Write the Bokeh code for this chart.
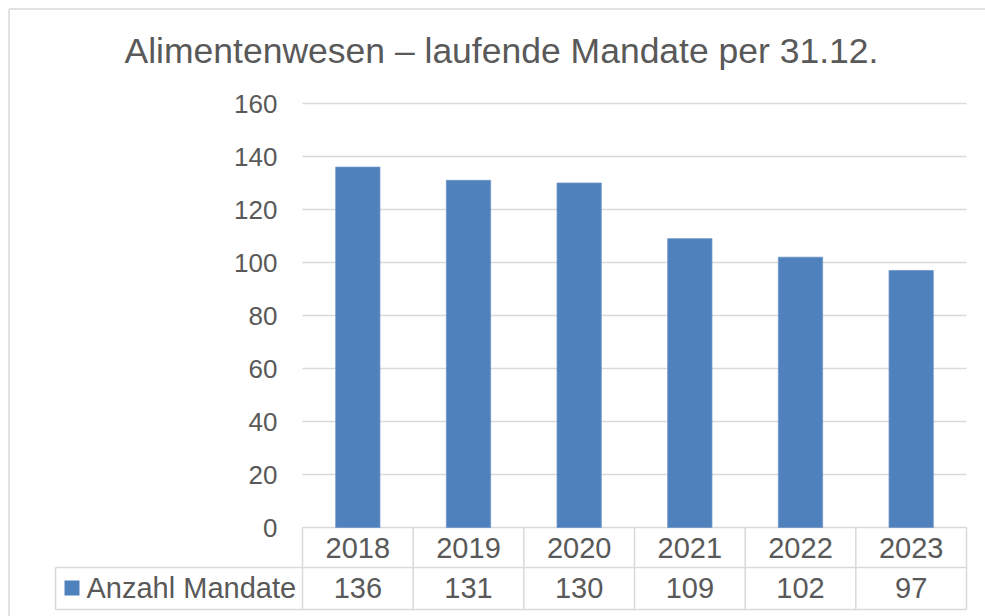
from bokeh.plotting import figure
from bokeh.models import Range1d
from bokeh.core.properties import value
from bokeh.embed import file_html
from bokeh.resources import INLINE

# ---- data ----
title_text = "Alimentenwesen – laufende Mandate per 31.12."
years = ["2018", "2019", "2020", "2021", "2022", "2023"]
mandates = [136, 131, 130, 109, 102, 97]
series_name = "Anzahl Mandate"
y_ticks = [0, 20, 40, 60, 80, 100, 120, 140, 160]
y_tick_labels = ["0", "20", "40", "60", "80", "100", "120", "140", "160"]

# ---- layout (pixels) ----
W, H = 985, 616
PL, PR, PT, PB = 302, 966, 103, 527      # plot area
YMAX = 160
ROW1_BOTTOM, ROW2_BOTTOM, TABLE_LEFT = 567, 609, 55
FONT = value("Liberation Sans")
TXT = "#595959"
GRID = "#D9D9D9"
BAR = "#4F81BD"

n = len(years)
cw = (PR - PL) / n
ppu = (PB - PT) / YMAX


def X(px):
    return (px - PL) / cw


def Y(py):
    return (PB - py) / ppu


p = figure(width=W, height=H, x_range=Range1d(X(0), X(W)), y_range=Range1d(Y(H), Y(0)),
           output_backend="svg", toolbar_location=None, x_axis_type=None, y_axis_type=None,
           min_border=0, min_border_left=0, min_border_right=0, min_border_top=0,
           min_border_bottom=0)
p.outline_line_color = None
p.xgrid.visible = False
p.ygrid.visible = False
p.background_fill_color = "white"
p.border_fill_color = "white"

# outer chart border (top + left visible)
p.segment(x0=[X(8.5), X(8.5)], y0=[Y(8.5), Y(8.5)], x1=[X(W), X(8.5)], y1=[Y(8.5), Y(H)],
          line_color=GRID, line_width=1.5)

# grid lines
p.segment(x0=[0] * len(y_ticks), x1=[n] * len(y_ticks), y0=y_ticks, y1=y_ticks,
          line_color=GRID, line_width=1.5)

# bars
xs = [i + 0.5 for i in range(n)]
p.vbar(x=xs, top=mandates, bottom=0, width=0.4, fill_color=BAR, line_color="#6E95C8",
       line_width=0.8)

# y tick labels
p.text(x=[X(277)] * len(y_ticks), y=y_ticks, text=y_tick_labels, text_align="right",
       text_baseline="middle", text_font=FONT, text_font_size="26px", text_color=TXT)

# data table lines
vx = list(range(n + 1))
p.segment(x0=vx, x1=vx, y0=[0] * (n + 1), y1=[Y(ROW2_BOTTOM)] * (n + 1),
          line_color=GRID, line_width=1.5)
p.segment(x0=[X(TABLE_LEFT)], x1=[X(TABLE_LEFT)], y0=[Y(ROW1_BOTTOM)], y1=[Y(ROW2_BOTTOM)],
          line_color=GRID, line_width=1.5)
p.segment(x0=[X(TABLE_LEFT)] * 2, x1=[n] * 2, y0=[Y(ROW1_BOTTOM), Y(ROW2_BOTTOM)],
          y1=[Y(ROW1_BOTTOM), Y(ROW2_BOTTOM)], line_color=GRID, line_width=1.5)

# table texts
p.text(x=xs, y=[Y(547)] * n, text=years, text_align="center", text_baseline="middle",
       text_font=FONT, text_font_size="29px", text_color=TXT)
p.text(x=xs, y=[Y(587)] * n, text=[str(v) for v in mandates], text_align="center",
       text_baseline="middle", text_font=FONT, text_font_size="29px", text_color=TXT)

# legend key + series name
p.quad(left=[X(64)], right=[X(79)], top=[Y(580)], bottom=[Y(595)], fill_color=BAR,
       line_color=None)
p.text(x=[X(86)], y=[Y(587)], text=[series_name], text_align="left", text_baseline="middle",
       text_font=FONT, text_font_size="29px", text_color=TXT)

# title
p.text(x=[X(501)], y=[Y(50)], text=[title_text], text_align="center", text_baseline="middle",
       text_font=FONT, text_font_size="35.5px", text_color=TXT)

open("out.html", "w").write(file_html(p, INLINE))
